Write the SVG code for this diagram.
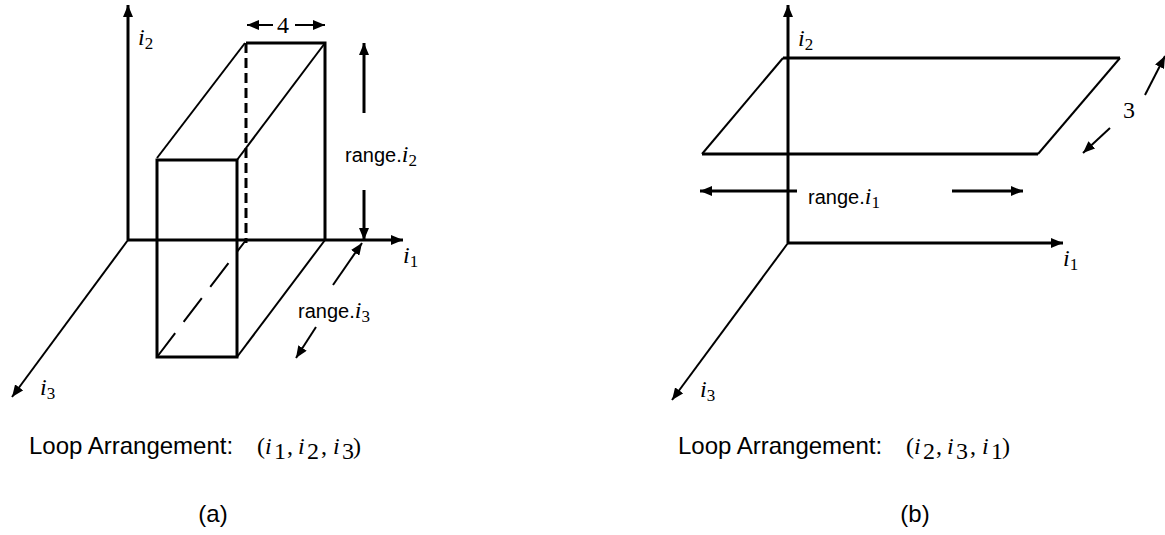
<svg xmlns="http://www.w3.org/2000/svg" width="1165" height="535" viewBox="0 0 1165 535">
<style>
.ax{stroke:#000;stroke-width:3;fill:none}
.thin{stroke:#000;stroke-width:2;fill:none}
.box{stroke:#000;stroke-width:3;fill:none}
.sans{font-family:"Liberation Sans","DejaVu Sans",sans-serif;font-size:20px;fill:#000}
.cap{font-family:"Liberation Sans","DejaVu Sans",sans-serif;font-size:24px;fill:#000}
.mi{font-family:"Liberation Serif","DejaVu Serif",serif;font-style:italic;font-size:24px;fill:#000}
.sub{font-family:"Liberation Serif","DejaVu Serif",serif;font-style:normal;font-size:17px}
.num{font-family:"Liberation Serif","DejaVu Serif",serif;font-size:24px;fill:#000}
</style>
<defs>
<marker id="ah" viewBox="0 0 12 10" refX="12" refY="5" markerWidth="12" markerHeight="10" markerUnits="userSpaceOnUse" orient="auto">
<path d="M0,0 L12,5 L0,10 Z" fill="#000"/>
</marker>
</defs>

<g id="panel-a">
<g id="axes-a">
<line class="ax" x1="128" y1="240" x2="128" y2="5" marker-end="url(#ah)"/>
<line class="ax" x1="128" y1="240" x2="403" y2="240" marker-end="url(#ah)"/>
<line class="thin" x1="128" y1="240" x2="12" y2="397" marker-end="url(#ah)"/>
<text class="mi" x="138" y="45">i<tspan class="sub" dy="4">2</tspan></text>
<text class="mi" x="403" y="263">i<tspan class="sub" dy="4">1</tspan></text>
<text class="mi" x="40" y="395">i<tspan class="sub" dy="4">3</tspan></text>
</g>
<g id="box-a">
<rect class="box" x="157" y="160" width="80" height="197"/>
<polyline class="box" points="246,43 325,43 325,240"/>
<line class="box" x1="246" y1="43" x2="246" y2="243" stroke-dasharray="10,5"/>
<line class="thin" x1="157" y1="158" x2="245" y2="43"/>
<line class="thin" x1="237" y1="160" x2="325" y2="43"/>
<line class="thin" x1="237" y1="357" x2="325" y2="240"/>
<line class="thin" x1="157" y1="357" x2="246" y2="240" stroke-dasharray="30,14"/>
</g>
<g id="dim-a">
<line class="thin" x1="273" y1="25" x2="247" y2="25" marker-end="url(#ah)"/>
<text class="num" x="283" y="33" text-anchor="middle">4</text>
<line class="thin" x1="295" y1="25" x2="325" y2="25" marker-end="url(#ah)"/>
<line class="ax" x1="364" y1="113" x2="364" y2="43" marker-end="url(#ah)"/>
<line class="ax" x1="364" y1="190" x2="364" y2="240" marker-end="url(#ah)"/>
<text class="sans" x="345" y="162">range.<tspan class="mi">i<tspan class="sub" dy="4">2</tspan></tspan></text>
<line class="thin" x1="333" y1="285" x2="362" y2="243" marker-end="url(#ah)"/>
<text class="sans" x="298" y="318">range.<tspan class="mi">i<tspan class="sub" dy="4">3</tspan></tspan></text>
<line class="thin" x1="316" y1="327" x2="296" y2="358" marker-end="url(#ah)"/>
</g>
<g id="caption-a">
<text class="cap" x="29" y="454">Loop Arrangement:</text>
<text class="num" x="257" y="454">(</text>
<text class="mi" x="265" y="454">i</text><text class="num sub" x="274" y="459">1</text>
<text class="num" x="287" y="454">,</text>
<text class="mi" x="298" y="454">i</text><text class="num sub" x="307" y="459">2</text>
<text class="num" x="321" y="454">,</text>
<text class="mi" x="333" y="454">i</text><text class="num sub" x="342" y="459">3</text>
<text class="num" x="353" y="454">)</text>
</g>
<text class="cap" x="213" y="522" text-anchor="middle">(a)</text>
</g>

<g id="panel-b">
<g id="axes-b">
<line class="ax" x1="788" y1="243" x2="788" y2="5" marker-end="url(#ah)"/>
<line class="ax" x1="788" y1="243" x2="1063" y2="243" marker-end="url(#ah)"/>
<line class="thin" x1="788" y1="243" x2="672" y2="400" marker-end="url(#ah)"/>
<text class="mi" x="798" y="46">i<tspan class="sub" dy="4">2</tspan></text>
<text class="mi" x="1063" y="266">i<tspan class="sub" dy="4">1</tspan></text>
<text class="mi" x="700" y="397">i<tspan class="sub" dy="4">3</tspan></text>
</g>
<g id="plane-b">
<line class="box" x1="783" y1="58" x2="1120" y2="58"/>
<line class="box" x1="702" y1="154" x2="1038" y2="154"/>
<line class="thin" x1="702" y1="154" x2="783" y2="58"/>
<line class="thin" x1="1038" y1="154" x2="1120" y2="58"/>
</g>
<g id="dim-b">
<line class="ax" x1="797" y1="191" x2="700" y2="191" marker-end="url(#ah)"/>
<text class="sans" x="808" y="204">range.<tspan class="mi">i<tspan class="sub" dy="4">1</tspan></tspan></text>
<line class="ax" x1="952" y1="191" x2="1023" y2="191" marker-end="url(#ah)"/>
<text class="num" x="1129" y="118" text-anchor="middle">3</text>
<line class="thin" x1="1145" y1="95" x2="1165" y2="56" marker-end="url(#ah)"/>
<line class="thin" x1="1110" y1="128" x2="1083" y2="153" marker-end="url(#ah)"/>
</g>
<g id="caption-b">
<text class="cap" x="678" y="454">Loop Arrangement:</text>
<text class="num" x="906" y="454">(</text>
<text class="mi" x="914" y="454">i</text><text class="num sub" x="923" y="459">2</text>
<text class="num" x="936" y="454">,</text>
<text class="mi" x="947" y="454">i</text><text class="num sub" x="956" y="459">3</text>
<text class="num" x="970" y="454">,</text>
<text class="mi" x="982" y="454">i</text><text class="num sub" x="991" y="459">1</text>
<text class="num" x="1002" y="454">)</text>
</g>
<text class="cap" x="915" y="522" text-anchor="middle">(b)</text>
</g>
</svg>
